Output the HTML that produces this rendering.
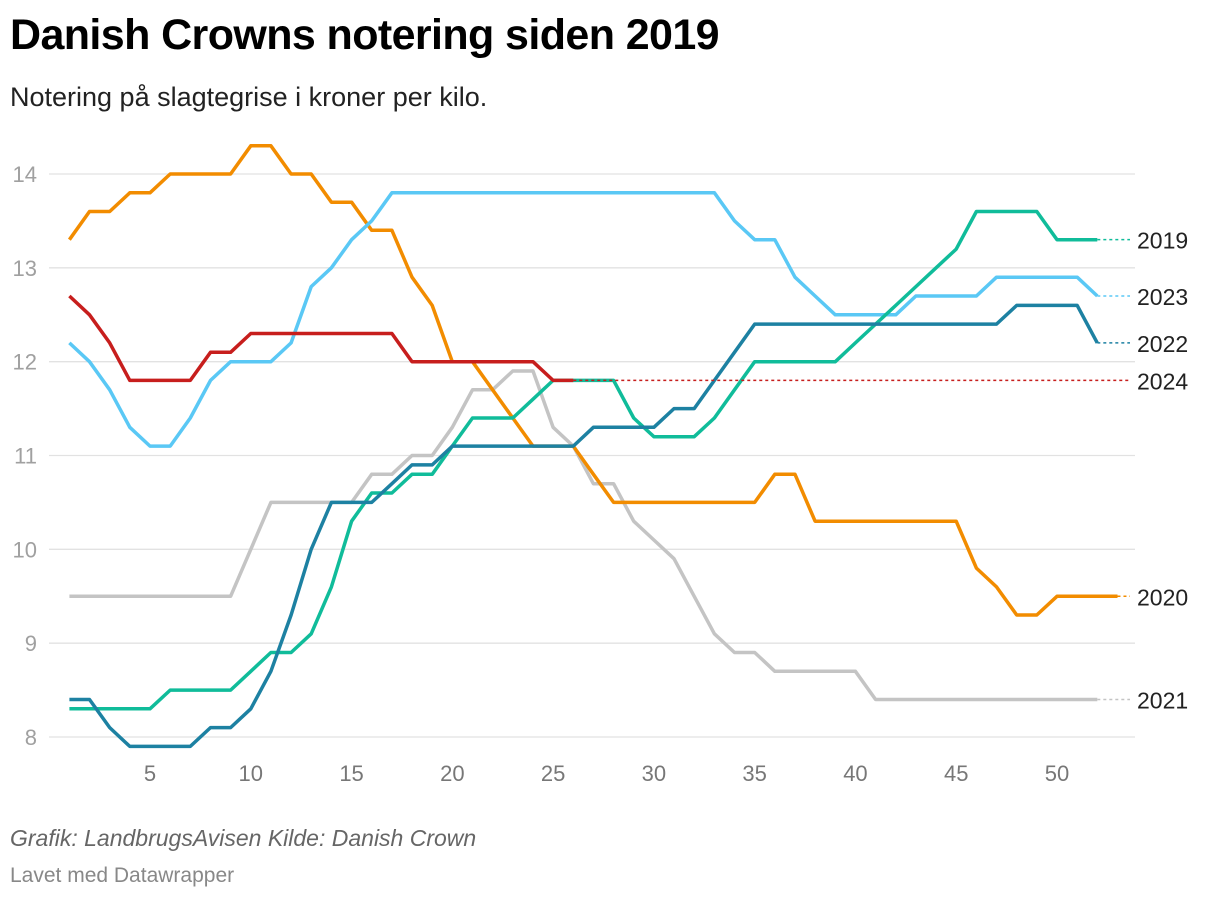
<!DOCTYPE html>
<html><head><meta charset="utf-8">
<style>
body{margin:0;background:#fff;width:1220px;height:900px;overflow:hidden;font-family:"Liberation Sans",Arial,sans-serif;}
h1{position:absolute;left:10px;top:11px;margin:0;font-size:43px;font-weight:bold;color:#000;letter-spacing:-0.6px}
.sub{position:absolute;left:10px;top:82px;font-size:27px;color:#222}
.f1{position:absolute;left:10px;top:825px;font-size:23px;font-style:italic;color:#666}
.f2{position:absolute;left:10px;top:864px;font-size:21px;color:#888}
svg{position:absolute;left:0;top:0}
</style></head><body>
<h1>Danish Crowns notering siden 2019</h1>
<div class="sub">Notering på slagtegrise i kroner per kilo.</div>
<div class="f1">Grafik: LandbrugsAvisen Kilde: Danish Crown</div>
<div class="f2">Lavet med Datawrapper</div>
<svg id="chart" width="1220" height="900"></svg>
<script>
const yTicks=[8,9,10,11,12,13,14];
const xTicks=[5,10,15,20,25,30,35,40,45,50];
const years=["2021","2020","2023","2019","2022","2024"];
const colors=["#c4c4c4","#f28c00","#5ac8f5","#10bc9a","#1d81a2","#c71e1d"];
const s2019=[8.3,8.3,8.3,8.3,8.3,8.5,8.5,8.5,8.5,8.7,8.9,8.9,9.1,9.6,10.3,10.6,10.6,10.8,10.8,11.1,11.4,11.4,11.4,11.6,11.8,11.8,11.8,11.8,11.4,11.2,11.2,11.2,11.4,11.7,12.0,12.0,12.0,12.0,12.0,12.2,12.4,12.6,12.8,13.0,13.2,13.6,13.6,13.6,13.6,13.3,13.3,13.3];
const s2020=[13.3,13.6,13.6,13.8,13.8,14.0,14.0,14.0,14.0,14.3,14.3,14.0,14.0,13.7,13.7,13.4,13.4,12.9,12.6,12.0,12.0,11.7,11.4,11.1,11.1,11.1,10.8,10.5,10.5,10.5,10.5,10.5,10.5,10.5,10.5,10.8,10.8,10.3,10.3,10.3,10.3,10.3,10.3,10.3,10.3,9.8,9.6,9.3,9.3,9.5,9.5,9.5,9.5];
const s2021=[9.5,9.5,9.5,9.5,9.5,9.5,9.5,9.5,9.5,10.0,10.5,10.5,10.5,10.5,10.5,10.8,10.8,11.0,11.0,11.3,11.7,11.7,11.9,11.9,11.3,11.1,10.7,10.7,10.3,10.1,9.9,9.5,9.1,8.9,8.9,8.7,8.7,8.7,8.7,8.7,8.4,8.4,8.4,8.4,8.4,8.4,8.4,8.4,8.4,8.4,8.4,8.4];
const s2022=[8.4,8.4,8.1,7.9,7.9,7.9,7.9,8.1,8.1,8.3,8.7,9.3,10.0,10.5,10.5,10.5,10.7,10.9,10.9,11.1,11.1,11.1,11.1,11.1,11.1,11.1,11.3,11.3,11.3,11.3,11.5,11.5,11.8,12.1,12.4,12.4,12.4,12.4,12.4,12.4,12.4,12.4,12.4,12.4,12.4,12.4,12.4,12.6,12.6,12.6,12.6,12.2];
const s2023=[12.2,12.0,11.7,11.3,11.1,11.1,11.4,11.8,12.0,12.0,12.0,12.2,12.8,13.0,13.3,13.5,13.8,13.8,13.8,13.8,13.8,13.8,13.8,13.8,13.8,13.8,13.8,13.8,13.8,13.8,13.8,13.8,13.8,13.5,13.3,13.3,12.9,12.7,12.5,12.5,12.5,12.5,12.7,12.7,12.7,12.7,12.9,12.9,12.9,12.9,12.9,12.7];
const s2024=[12.7,12.5,12.2,11.8,11.8,11.8,11.8,12.1,12.1,12.3,12.3,12.3,12.3,12.3,12.3,12.3,12.3,12.0,12.0,12.0,12.0,12.0,12.0,12.0,11.8,11.8];
const series=[s2021,s2020,s2023,s2019,s2022,s2024];
const labelY={"2019":13.3,"2023":12.7,"2022":12.2,"2024":11.8,"2020":9.5,"2021":8.4};

const NS="http://www.w3.org/2000/svg",svg=document.getElementById('chart');
const X=w=>150+(w-5)*(1057-150)/45;
const Y=v=>737-(v-8)*(737-174)/6;
function mk(t,a,p){const e=document.createElementNS(NS,t);for(const k in a)e.setAttribute(k,a[k]);(p||svg).appendChild(e);return e;}
yTicks.forEach(t=>{
  const l=mk('line',{x1:49,x2:1135,y1:Y(t),y2:Y(t),stroke:'#e2e2e2','stroke-width':1.3});
  
  
  const tx=mk('text',{x:37,y:Y(t)+8,'font-size':22,fill:'#a0a0a0','text-anchor':'end'});tx.textContent=t;
  
  
});
xTicks.forEach(t=>{
  const tx=mk('text',{x:X(t),y:781,'font-size':22,fill:'#777','text-anchor':'middle'});tx.textContent=t;
  
  
});
series.forEach((s,i)=>{
  const d=s.map((v,j)=>(j?'L':'M')+X(j+1).toFixed(1)+','+Y(v).toFixed(1)).join('');
  const p=mk('path',{d:d,fill:'none',stroke:colors[i],'stroke-width':3.5,'stroke-linejoin':'round'});
  
  
  const last=s[s.length-1],lx=X(s.length);
  if(lx<1125){
    const dl=mk('line',{x1:lx,x2:1130,y1:Y(last),y2:Y(last),stroke:colors[i],'stroke-width':1.5,'stroke-dasharray':'3,3'});
    
    
  }
  const tx=mk('text',{x:1137,y:Y(labelY[years[i]])+9,'font-size':23,fill:'#222'});tx.textContent=years[i];
  
  
});
</script>
</body></html>
